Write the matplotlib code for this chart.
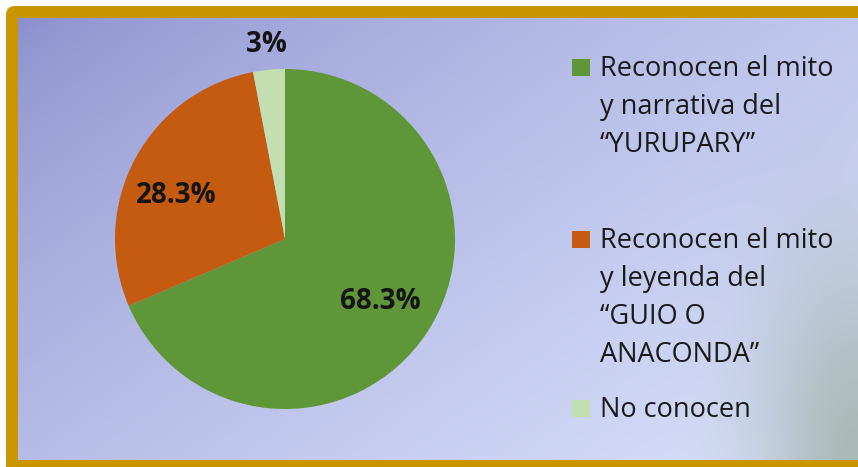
import numpy as np
import matplotlib
matplotlib.use("Agg")
import matplotlib.pyplot as plt
from matplotlib.patches import FancyBboxPatch, Rectangle
from matplotlib.colors import to_rgb

# data
categorias = [
    "Reconocen el mito\ny narrativa del\n\u201cYURUPARY\u201d",
    "Reconocen el mito\ny leyenda del\n\u201cGUIO O\nANACONDA\u201d",
    "No conocen",
]
valores = [68.3, 28.3, 3.0]
etiquetas = ["68.3%", "28.3%", "3%"]
colores = ["#5f9638", "#c55a11", "#c3dfb2"]

W, H = 858, 467
plt.rcParams['font.family'] = ['Open Sans', 'DejaVu Sans']

fig = plt.figure(figsize=(W / 100, H / 100), dpi=100)
fig.patch.set_facecolor("white")

# fondo en pixeles
bg = fig.add_axes([0, 0, 1, 1])
bg.set_xlim(0, W)
bg.set_ylim(H, 0)
bg.axis("off")

bg.add_patch(FancyBboxPatch((6, 6), 880, 480, boxstyle="round,pad=0,rounding_size=9",
                            facecolor="#c99600", edgecolor="none"))

# degradado interior
x0, x1, y0, y1 = 18, W, 18, 460
xx, yy = np.meshgrid(np.linspace(0, 1, 300), np.linspace(0, 1, 200))
t = np.clip(0.62 * xx + 0.45 * yy, 0, 1) ** 0.7
c0 = np.array(to_rgb("#8a8fcd"))
c1 = np.array(to_rgb("#d6def9"))
img = c0 * (1 - t[..., None]) + c1 * t[..., None]
sombra = np.exp(-((1 - xx) ** 2) / (2 * 0.08 ** 2) - ((1 - yy) ** 2) / (2 * 0.32 ** 2)) * 0.5
c2 = np.array(to_rgb("#7f9676"))
img = img * (1 - sombra[..., None]) + c2 * sombra[..., None]
bg.imshow(img, extent=(x0, x1, y1, y0), aspect="auto", interpolation="bilinear", zorder=1)
bg.set_xlim(0, W)
bg.set_ylim(H, 0)

# pastel
cx, cy, r = 285, 239, 170
ax = fig.add_axes([(cx - r) / W, (H - cy - r) / H, 2 * r / W, 2 * r / H])
ax.set_zorder(2)
wedges, _ = ax.pie(valores, colors=colores, startangle=90, counterclock=False,
                   wedgeprops=dict(edgecolor="none"))
ax.set_xlim(-1, 1)
ax.set_ylim(-1, 1)
ax.set_aspect("equal")

dist = [0.67, 0.69, 1.15]
ajuste = [0, 6, 0]
for w, lab, d, da in zip(wedges, etiquetas, dist, ajuste):
    ang = np.deg2rad((w.theta1 + w.theta2) / 2 + da)
    ax.text(d * np.cos(ang), d * np.sin(ang), lab, ha="center", va="center",
            fontsize=20, fontweight="bold", color="#141414")

# leyenda
bases = [[76, 114, 152], [248, 286, 324, 362], [417]]
for cat, col, bl in zip(categorias, colores, bases):
    bg.add_patch(Rectangle((572, bl[0] - 17), 18, 17, facecolor=col, edgecolor="none", zorder=3))
    for linea, y in zip(cat.split("\n"), bl):
        bg.text(600, y, linea, fontsize=19.5, color="#1a1a1a", va="baseline", ha="left", zorder=3)

fig.savefig("out.png", dpi=100)
